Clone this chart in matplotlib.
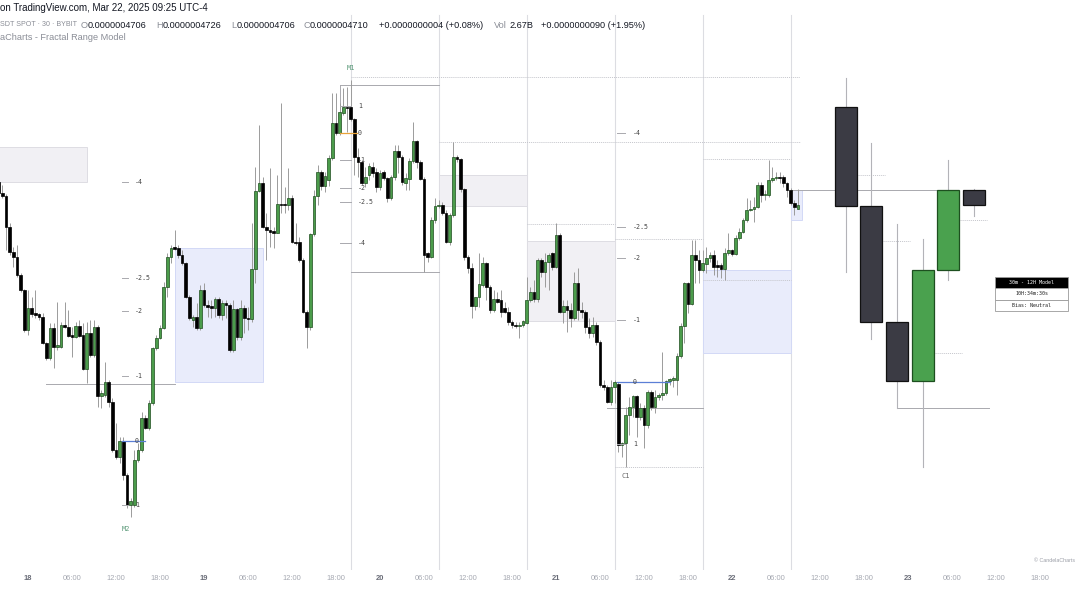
import matplotlib
matplotlib.use("Agg")
import matplotlib.pyplot as plt
from matplotlib.patches import Rectangle
import numpy as np

# ---------------- data (prices in units of 1e-10) ----------------
start_hour = -4.0      # first 30m bar: Mar 17 20:00 (hours from Mar 18 00:00)
bar_hours = 0.5

opens = [4733, 4722, 4719, 4688, 4663, 4658, 4640, 4625, 4585, 4607,
         4602, 4601, 4598, 4572, 4557, 4587, 4568, 4568, 4590, 4588,
         4580, 4578, 4589, 4580, 4546, 4582, 4560, 4588, 4519, 4520,
         4533, 4513, 4465, 4458, 4474, 4440, 4410, 4410, 4455, 4465,
         4497, 4487, 4512, 4567, 4577, 4587, 4628, 4658, 4668, 4667,
         4660, 4652, 4618, 4595, 4598, 4587, 4625, 4610, 4609, 4607,
         4616, 4600, 4612, 4610, 4565, 4606, 4578, 4607, 4597, 4596,
         4646, 4724, 4732, 4688, 4685, 4684, 4682, 4711, 4711, 4710,
         4717, 4673, 4673, 4655, 4603, 4588, 4681, 4719, 4743, 4729,
         4735, 4757, 4792, 4782, 4802, 4808, 4808, 4796, 4758, 4753,
         4732, 4740, 4748, 4743, 4728, 4743, 4737, 4717, 4738, 4764,
         4758, 4732, 4736, 4754, 4774, 4753, 4736, 4662, 4658, 4695,
         4709, 4710, 4702, 4673, 4700, 4758, 4756, 4726, 4658, 4647,
         4609, 4618, 4630, 4652, 4628, 4605, 4616, 4615, 4607, 4603,
         4593, 4590, 4589, 4590, 4592, 4615, 4623, 4616, 4655, 4643,
         4653, 4662, 4648, 4680, 4603, 4609, 4605, 4597, 4632, 4605,
         4603, 4588, 4582, 4590, 4573, 4530, 4528, 4513, 4528, 4531,
         4470, 4472, 4500, 4508, 4519, 4498, 4507, 4490, 4523, 4508,
         4518, 4520, 4522, 4534, 4535, 4535, 4559, 4589, 4632, 4611,
         4660, 4655, 4645, 4651, 4657, 4660, 4650, 4650, 4646, 4662,
         4665, 4661, 4677, 4683, 4695, 4705, 4706, 4708, 4730, 4720,
         4720, 4735, 4737, 4738, 4738, 4732, 4725, 4712, 4706]
highs = [4735, 4730, 4721, 4692, 4668, 4670, 4642, 4626, 4625, 4618,
         4625, 4602, 4602, 4573, 4592, 4592, 4613, 4593, 4613, 4605,
         4588, 4593, 4595, 4592, 4593, 4595, 4595, 4590, 4525, 4553,
         4535, 4517, 4492, 4478, 4478, 4442, 4417, 4465, 4472, 4503,
         4500, 4515, 4568, 4580, 4590, 4633, 4662, 4670, 4685, 4670,
         4665, 4653, 4620, 4600, 4612, 4630, 4632, 4615, 4615, 4618,
         4618, 4615, 4615, 4612, 4615, 4607, 4615, 4610, 4608, 4692,
         4748, 4790, 4738, 4702, 4747, 4688, 4740, 4812, 4728, 4747,
         4720, 4692, 4678, 4657, 4605, 4682, 4725, 4750, 4745, 4743,
         4760, 4822, 4822, 4812, 4827, 4828, 4835, 4797, 4767, 4755,
         4748, 4752, 4753, 4747, 4745, 4745, 4738, 4740, 4770, 4770,
         4760, 4742, 4757, 4793, 4775, 4755, 4738, 4663, 4698, 4717,
         4715, 4713, 4705, 4702, 4773, 4760, 4757, 4727, 4660, 4652,
         4618, 4662, 4658, 4653, 4630, 4625, 4623, 4625, 4613, 4608,
         4595, 4593, 4593, 4595, 4638, 4628, 4635, 4657, 4657, 4662,
         4662, 4663, 4692, 4682, 4615, 4615, 4612, 4643, 4647, 4613,
         4605, 4597, 4598, 4593, 4575, 4535, 4530, 4535, 4535, 4533,
         4473, 4508, 4518, 4520, 4520, 4512, 4510, 4525, 4525, 4525,
         4522, 4563, 4535, 4537, 4539, 4562, 4592, 4633, 4633, 4675,
         4675, 4665, 4665, 4668, 4663, 4665, 4655, 4652, 4667, 4682,
         4666, 4680, 4687, 4697, 4717, 4715, 4718, 4733, 4733, 4725,
         4755, 4748, 4743, 4743, 4740, 4733, 4727, 4715, 4726]
lows = [4720, 4717, 4665, 4660, 4648, 4638, 4623, 4583, 4580, 4598,
        4597, 4595, 4571, 4555, 4555, 4547, 4565, 4567, 4587, 4578,
        4558, 4577, 4578, 4545, 4532, 4558, 4558, 4508, 4507, 4518,
        4508, 4463, 4456, 4452, 4435, 4407, 4398, 4408, 4453, 4463,
        4486, 4485, 4510, 4565, 4576, 4586, 4618, 4652, 4665, 4657,
        4650, 4617, 4595, 4588, 4585, 4585, 4608, 4598, 4597, 4598,
        4597, 4595, 4597, 4563, 4563, 4575, 4575, 4582, 4585, 4593,
        4632, 4723, 4687, 4655, 4668, 4667, 4682, 4702, 4702, 4705,
        4672, 4670, 4653, 4602, 4567, 4585, 4679, 4710, 4725, 4723,
        4729, 4755, 4780, 4780, 4800, 4783, 4794, 4740, 4738, 4730,
        4728, 4735, 4738, 4723, 4725, 4735, 4713, 4715, 4735, 4742,
        4730, 4725, 4725, 4752, 4747, 4735, 4643, 4653, 4657, 4692,
        4707, 4700, 4672, 4670, 4698, 4753, 4723, 4655, 4642, 4597,
        4605, 4608, 4628, 4615, 4602, 4603, 4612, 4598, 4602, 4590,
        4587, 4587, 4577, 4588, 4591, 4613, 4613, 4613, 4638, 4628,
        4625, 4645, 4647, 4602, 4592, 4583, 4588, 4595, 4595, 4597,
        4582, 4577, 4578, 4570, 4528, 4525, 4512, 4510, 4512, 4463,
        4458, 4448, 4480, 4498, 4478, 4495, 4467, 4487, 4505, 4502,
        4515, 4515, 4520, 4530, 4528, 4520, 4557, 4572, 4602, 4610,
        4632, 4632, 4643, 4642, 4653, 4640, 4638, 4637, 4635, 4660,
        4659, 4660, 4675, 4682, 4693, 4704, 4693, 4707, 4713, 4715,
        4718, 4733, 4735, 4732, 4728, 4718, 4710, 4700, 4706]
closes = [4722, 4719, 4688, 4663, 4658, 4640, 4625, 4585, 4607, 4601,
          4600, 4598, 4572, 4557, 4587, 4568, 4570, 4590, 4588, 4579,
          4578, 4589, 4579, 4546, 4582, 4560, 4588, 4519, 4522, 4533,
          4513, 4465, 4458, 4474, 4440, 4410, 4414, 4455, 4465, 4497,
          4487, 4512, 4567, 4577, 4587, 4628, 4658, 4667, 4666, 4660,
          4652, 4618, 4597, 4598, 4587, 4625, 4610, 4608, 4607, 4616,
          4600, 4612, 4610, 4565, 4606, 4578, 4607, 4597, 4596, 4646,
          4724, 4732, 4688, 4685, 4683, 4682, 4711, 4710, 4710, 4717,
          4673, 4672, 4655, 4603, 4588, 4681, 4719, 4743, 4729, 4739,
          4757, 4792, 4782, 4803, 4808, 4807, 4796, 4758, 4753, 4732,
          4738, 4749, 4742, 4728, 4742, 4737, 4717, 4738, 4764, 4758,
          4733, 4737, 4754, 4774, 4753, 4736, 4660, 4658, 4695, 4709,
          4710, 4702, 4673, 4700, 4758, 4756, 4726, 4658, 4647, 4609,
          4618, 4631, 4652, 4628, 4605, 4616, 4613, 4603, 4603, 4593,
          4590, 4589, 4590, 4594, 4615, 4623, 4616, 4655, 4643, 4653,
          4660, 4648, 4680, 4603, 4609, 4605, 4597, 4632, 4605, 4603,
          4588, 4582, 4590, 4573, 4530, 4528, 4513, 4528, 4533, 4470,
          4472, 4500, 4508, 4519, 4498, 4507, 4490, 4523, 4508, 4518,
          4520, 4522, 4534, 4536, 4537, 4559, 4589, 4632, 4611, 4660,
          4655, 4645, 4652, 4657, 4660, 4648, 4648, 4646, 4662, 4665,
          4661, 4677, 4683, 4695, 4705, 4706, 4708, 4730, 4720, 4721,
          4735, 4737, 4738, 4737, 4732, 4725, 4712, 4708, 4710]

# 12H model candles (drawn to the right)
htf_center_hours = [111.5, 115.0, 118.5, 122.0, 125.5, 129.0]
htf_open = [4808, 4709, 4593, 4534, 4645, 4725]
htf_high = [4837, 4772, 4691, 4676, 4755, 4726]
htf_low = [4643, 4576, 4507, 4448, 4635, 4699]
htf_close = [4709, 4593, 4534, 4645, 4725, 4710]
htf_mid_shown = [True, True, False, True, True, False]

# range boxes (time start, time end, low, high, kind)
box_t0 = [-6, 20, 56, 68, 92, 104]
box_t1 = [8, 32, 68, 80, 104, 105.6]
box_lo = [4733, 4533, 4709, 4594, 4562, 4695]
box_hi = [4768, 4667, 4740, 4674, 4645, 4725]
box_kind = ['gray', 'blue', 'gray', 'gray', 'blue', 'blue']

# horizontal level lines (t0, t1, price, style)
line_t0 = [2.5, 42.5, 44, 56, 44, 68, 79, 80, 80, 92, 92, 104, 118.5]
line_t1 = [20, 56, 105.3, 105.3, 56, 80, 92, 92, 92, 104, 104, 124, 131]
line_p = [4531, 4830, 4838, 4773, 4643, 4691, 4507, 4448, 4676, 4756, 4635, 4725, 4507]
line_style = ['-', '-', ':', ':', '-', ':', '-', ':', ':', ':', ':', '-', '-']

session_hours = [44, 56, 68, 80, 92, 104]

# fractal level groups
m2_names = ['-4', '-2.5', '-2', '-1', '0', '1']
m2_prices = [4733, 4637, 4604, 4539, 4474, 4410]
m1_names = ['1', '0', '-1', '-2', '-2.5', '-4']
m1_prices = [4809, 4782, 4755, 4727, 4713, 4672]
c1_names = ['-4', '-2.5', '-2', '-1', '0', '1']
c1_prices = [4782, 4688, 4657, 4595, 4533, 4471]

tick_hours = list(range(0, 139, 6))
day_labels = {0: '18', 24: '19', 48: '20', 72: '21', 96: '22', 120: '23'}

# ---------------- figure ----------------
W, H = 1080, 608
fig = plt.figure(figsize=(W / 100, H / 100), dpi=100, facecolor='white')
ax = fig.add_axes([0, 38 / H, 1, 570 / H])
ax.set_facecolor('white')
PX = 176 / 24.0  # pixels per hour
ax.set_xlim(-28 / PX, (W - 28) / PX)
ax.set_ylim(4345, 4915)
for s in ax.spines.values():
    s.set_visible(False)
ax.set_yticks([])

mono = ['DejaVu Sans Mono']
sans = ['Liberation Sans', 'DejaVu Sans']

# session separators
for h in session_hours:
    ax.plot([h, h], [4345, 4900], color='#dcdde2', lw=0.8, zorder=1)

# boxes
for t0, t1, lo, hi, kd in zip(box_t0, box_t1, box_lo, box_hi, box_kind):
    if kd == 'gray':
        fc, ec = '#f1f0f4', '#dedde3'
    else:
        fc, ec = '#e9ecfb', '#d3d9f6'
    ax.add_patch(Rectangle((t0, lo), t1 - t0, hi - lo, facecolor=fc,
                           edgecolor=ec, lw=0.7, zorder=1.5))

# lines
for t0, t1, p, st in zip(line_t0, line_t1, line_p, line_style):
    col = '#a9a9ae' if st == '-' else '#c5c6cc'
    ax.plot([t0, t1], [p, p], color=col, lw=0.7, ls=(0, (1, 1)) if st == ':' else '-', zorder=2)
ax.plot([42.5, 42.5], [4782, 4830], color='#a9a9ae', lw=0.7, zorder=2)

# candles
n = len(opens)
t = start_hour + bar_hours * np.arange(n)
o = np.array(opens, float); hh = np.array(highs, float)
ll = np.array(lows, float); c = np.array(closes, float)
ax.vlines(t, ll, hh, color='#9b9b9b', lw=0.7, zorder=3)
bull = c >= o
body_lo = np.minimum(o, c)
body_h = np.maximum(np.abs(c - o), 1.0)
ax.bar(t[bull], body_h[bull], bottom=body_lo[bull], width=0.38,
       color='#4b9c4b', edgecolor='#1e4d1e', lw=0.5, zorder=4)
ax.bar(t[~bull], body_h[~bull], bottom=body_lo[~bull], width=0.38,
       color='#000000', edgecolor='#000000', lw=0.5, zorder=4)

# HTF candles
for i, tc in enumerate(htf_center_hours):
    op, hi, lo, cl = htf_open[i], htf_high[i], htf_low[i], htf_close[i]
    ax.plot([tc, tc], [lo, hi], color='#b3b3b8', lw=0.8, zorder=3)
    if cl >= op:
        fc, ec = '#4aa14e', '#1d4f1f'
    else:
        fc, ec = '#3b3b44', '#111111'
    ax.add_patch(Rectangle((tc - 1.5, min(op, cl)), 3.0, abs(cl - op),
                           facecolor=fc, edgecolor=ec, lw=0.9, zorder=4))
    if htf_mid_shown[i]:
        mid = (hi + lo) / 2.0
        ax.plot([tc + 1.5, tc + 5.3], [mid, mid], color='#c5c6cc', lw=0.7,
                ls=(0, (1, 1)), zorder=2)

# fractal levels
def level_group(names, prices, d0, d1, tx, zero_col, z1):
    for nm, p in zip(names, prices):
        if nm == '0':
            ax.plot([d0, z1], [p, p], color=zero_col, lw=0.9, zorder=5)
        else:
            ax.plot([d0, d1], [p, p], color='#a9a9ae', lw=0.7, zorder=5)
        ax.text(tx, p, nm, fontsize=4.8, family=mono, color='#444444',
                ha='left', va='center', zorder=6)

level_group(m2_names, m2_prices, 12.8, 13.6, 14.6, '#5b7fd6', 16.0)
level_group(m1_names, m1_prices, 42.5, 44.0, 45.0, '#e8a33a', 44.9)
level_group(c1_names, c1_prices, 80.3, 81.4, 82.5, '#5b7fd6', 87.5)

ax.text(44.0, 4847, 'M1', fontsize=5, family=mono, color='#5e9c7c', ha='center', va='center')
ax.text(13.4, 4386, 'M2', fontsize=5, family=mono, color='#5e9c7c', ha='center', va='center')
ax.text(81.5, 4439, 'C1', fontsize=5, family=mono, color='#666666', ha='center', va='center')

# x axis
ax.set_xticks(tick_hours)
labs = [day_labels.get(h, '%02d:00' % (h % 24)) for h in tick_hours]
ax.set_xticklabels(labs, family=sans)
ax.tick_params(axis='x', length=0, pad=3.5, labelsize=5.4)
for h, lab in zip(tick_hours, ax.get_xticklabels()):
    if h in day_labels:
        lab.set_color('#6a6d78'); lab.set_fontweight('bold')
    else:
        lab.set_color('#a6a9b2')

# table (screen-positioned info panel)
def fx(x): return x / W
def fy(y): return 1 - y / H
rows = ['30m - 12H Model', '10H:34m:30s', 'Bias: Neutral']
x0, x1 = 995, 1068
ytop, rh = 277, 11.3
for i, r in enumerate(rows):
    y0 = ytop + i * rh
    fig.patches.append(Rectangle((fx(x0), fy(y0 + rh)), fx(x1 - x0), rh / H,
                                 transform=fig.transFigure,
                                 facecolor='#000000' if i == 0 else 'white',
                                 edgecolor='#9a9a9a', lw=0.6, zorder=10))
    fig.text(fx((x0 + x1) / 2), fy(y0 + rh / 2), r, fontsize=3.6, family=mono,
             color='white' if i == 0 else '#222222', ha='center', va='center', zorder=11)

fig.text(fx(1075), fy(561), '\u00a9 CandelaCharts', fontsize=3.8, family=sans,
         color='#9a9da6', ha='right', va='center')

# header
fig.text(fx(0), fy(8), 'on TradingView.com, Mar 22, 2025 09:25 UTC-4', fontsize=7,
         family=sans, color='#131722', ha='left', va='center')
fig.text(fx(0), fy(25), 'SDT SPOT \u00b7 30 \u00b7 BYBIT', fontsize=5.1, family=sans,
         color='#8a8d96', ha='left', va='center')
seg = [(81, 'O', '#8a8d96'),
       (88, '0.0000004706', '#131722'), (156, 'H', '#8a8d96'),
       (163, '0.0000004726', '#131722'), (231, 'L', '#8a8d96'),
       (237, '0.0000004706', '#131722'), (304, 'C', '#8a8d96'),
       (310, '0.0000004710', '#131722'), (379, '+0.0000000004 (+0.08%)', '#131722'),
       (494, 'Vol', '#8a8d96'), (509, '2.67B', '#131722'),
       (541, '+0.0000000090 (+1.95%)', '#131722')]
for x, s, col in seg:
    fig.text(fx(x), fy(25), s, fontsize=6.6, family=sans, color=col, ha='left', va='center')
fig.text(fx(0), fy(37), 'aCharts - Fractal Range Model', fontsize=6.6, family=sans,
         color='#8a8d96', ha='left', va='center')

fig.savefig('out.png', dpi=100, facecolor='white')
